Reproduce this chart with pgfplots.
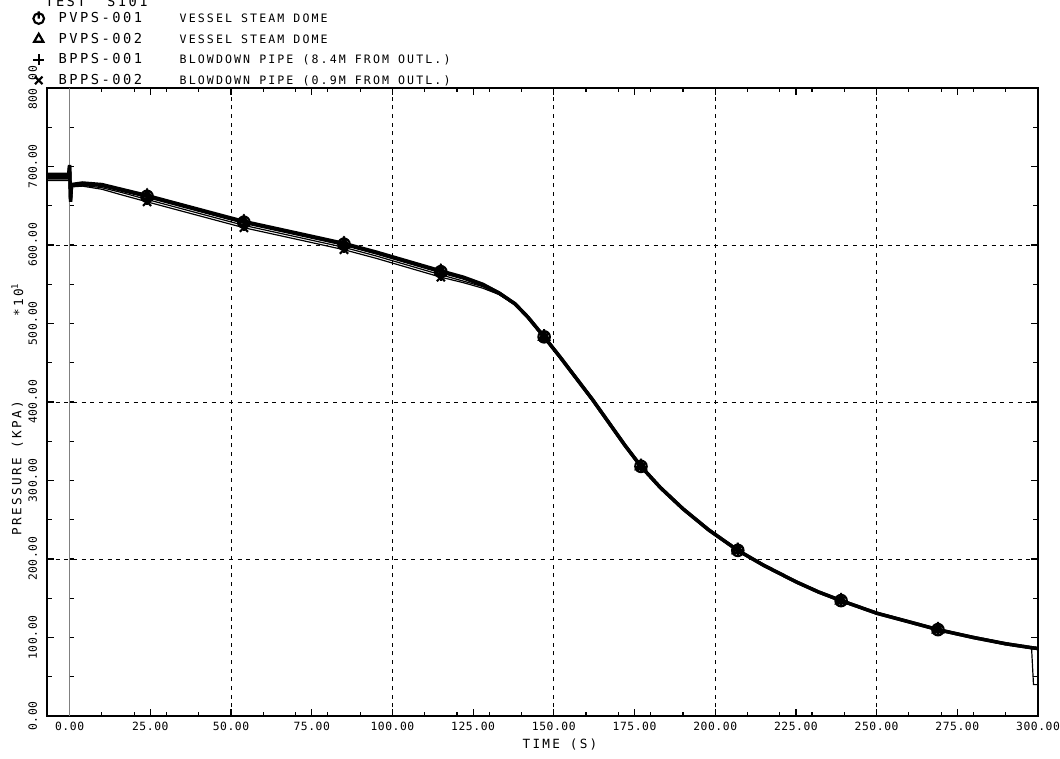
\documentclass[border=0pt]{standalone}
\usepackage{fontspec}
\usepackage{pgfplots}
\usepackage{pgfplotstable}
\pgfplotsset{compat=1.18}

\newfontfamily\plotfont[LetterSpace=18]{DejaVu Sans Mono}
\newfontfamily\plotnumfont[LetterSpace=5]{DejaVu Sans Mono}
\newcommand\idfont{\plotfont\fontsize{10.3}{12}\selectfont}
\newcommand\descfont{\plotfont\fontsize{8.7}{10}\selectfont}
\newcommand\tickfont{\plotnumfont\fontsize{8.5}{10}\selectfont}
\newcommand\labfont{\plotfont\fontsize{9.5}{11}\selectfont}

% circle with a short vertical stroke, as drawn by the plotter
\pgfdeclareplotmark{phi}{%
  \pgfpathcircle{\pgfpointorigin}{\pgfplotmarksize}%
  \pgfpathmoveto{\pgfqpoint{0pt}{0pt}}%
  \pgfpathlineto{\pgfqpoint{0pt}{1.35\pgfplotmarksize}}%
  \pgfusepathqstroke}

% pressure histories, time (s) and pressure (kPa x 10)
\pgfplotstableread{
t p
-7 686
-0.3 686
0 700
0.3 657
0.6 676
4 678
10 676
16 670
24 662
34 651
44 640
54 629
64 620
74 611
85 601
95 590
105 578
115 566
122 558
128 549
133 539
138 525
142 508
147 483
152 457
157 430
162 403
167 374
172 345
177 318
183 291
190 264
198 237
207 211
215 192
225 171
232 158
239 147
250 131
260 120
269 110
280 100
290 92
298 87
300 86
}\pvpsa

\pgfplotstableread{
t p
-7 690
-0.3 690
0 702
0.3 655
0.6 677
4 679
10 677
16 671
24 663
34 652
44 641
54 630
64 621
74 612
85 602
95 591
105 579
115 567
122 559
128 550
133 539
138 525
142 508
147 483
152 457
157 430
162 403
167 374
172 345
177 318
183 291
190 264
198 237
207 211
215 192
225 171
232 158
239 147
250 131
260 120
269 110
280 100
290 92
298 87
300 86
}\pvpsb

\pgfplotstableread{
t p
-7 684
-0.3 684
0 698
0.3 660
0.6 675
4 676
10 673
16 667
24 658
34 647
44 636
54 625
64 616
74 607
85 597
95 586
105 574
115 562
122 554
128 547
133 537
138 524
142 507
147 482
152 456
157 430
162 402
167 374
172 345
177 317
183 291
190 264
198 237
207 211
215 192
225 171
232 158
239 147
250 131
260 120
269 110
280 100
290 92
298 87
300 86
}\bppsa

\pgfplotstableread{
t p
-7 682
-0.3 682
0 696
0.3 662
0.6 674
4 675
10 671
16 664
24 655
34 644
44 633
54 622
64 613
74 604
85 594
95 583
105 571
115 559
122 552
128 545
133 537
138 524
142 507
147 482
152 456
157 430
162 402
167 374
172 345
177 317
183 291
190 264
198 237
207 211
215 192
225 171
232 158
239 147
250 131
260 120
269 110
280 100
290 92
298 87
298.6 40
300 40
}\bppsb

\begin{document}
\begin{tikzpicture}
\useasboundingbox (0pt,0pt) rectangle (795pt,568.5pt);
\begin{axis}[
  at={(35.25pt,31.5pt)}, anchor=south west,
  scale only axis, width=743.25pt, height=471pt,
  xmin=-7, xmax=300, ymin=0, ymax=800,
  axis line style={line width=1.3pt},
  xtick={0,25,...,300},
  xticklabels={0.00,25.00,50.00,75.00,100.00,125.00,150.00,175.00,200.00,225.00,250.00,275.00,300.00},
  ytick={0,100,...,800},
  yticklabels={0.00,100.00,200.00,300.00,400.00,500.00,600.00,700.00,800.00},
  minor y tick num=1,
  tick align=inside,
  major tick length=5pt, minor tick length=3.5pt,
  tick style={black, line width=0.9pt},
  xticklabel style={font=\tickfont, yshift=-1pt},
  yticklabel style={font=\tickfont, rotate=90, anchor=south, yshift=4pt},
  extra x ticks={10,20,30,40,60,70,80,90,110,120,130,140,160,170,180,190,210,220,230,240,260,270,280,290},
  extra x tick labels={},
  extra x tick style={major tick length=3pt},
  legend style={at={(axis description cs:-0.014,1.125)}, anchor=north west,
    draw=none, fill=none, inner sep=0pt, row sep=2.3pt, font=\idfont,
    cells={anchor=west},
    /tikz/every odd column/.append style={column sep=9pt}},
  legend image code/.code={\draw[#1, mark indices={1}, only marks, mark size=4pt, line width=0.9pt] plot coordinates {(0pt,0pt)};},
]
% dashed grid
\pgfplotsinvokeforeach{50,100,150,200,250}{
  \draw[black, line width=0.6pt, dash pattern=on 3pt off 3.5pt] (axis cs:#1,0) -- (axis cs:#1,800);}
\pgfplotsinvokeforeach{200,400,600}{
  \draw[black, line width=0.6pt, dash pattern=on 3pt off 3.5pt] (axis cs:-7,#1) -- (axis cs:300,#1);}
% time-zero line with its own ticks
\draw[black!50, line width=1.2pt] (axis cs:0,0) -- (axis cs:0,800);
\pgfplotsinvokeforeach{50,100,...,750}{
  \draw[black, line width=0.8pt] (axis cs:0,#1) -- ++(3.5pt,0pt);}

\addplot[black, line width=2.6pt, mark=phi, mark size=4.3pt,
  mark indices={9,12,15,18,24,30,34,38,41}, mark options={solid, line width=1.6pt}]
  table[x=t, y=p] {\pvpsa};
\addlegendentry{\makebox[90.75pt][l]{PVPS-001}{\descfont VESSEL STEAM DOME}}
\addplot[black, line width=2.6pt, mark=triangle, mark size=4.3pt,
  mark indices={9,12,15,18,24,30,34,38,41}, mark options={solid, line width=1.6pt}]
  table[x=t, y=p] {\pvpsb};
\addlegendentry{\makebox[90.75pt][l]{PVPS-002}{\descfont VESSEL STEAM DOME}}
\addplot[black, line width=0.9pt, mark=+, mark size=4.3pt,
  mark indices={9,12,15,18,24,30,34,38,41}, mark options={solid, line width=1.6pt}]
  table[x=t, y=p] {\bppsa};
\addlegendentry{\makebox[90.75pt][l]{BPPS-001}{\descfont BLOWDOWN PIPE (8.4M FROM OUTL.)}}
\addplot[black, line width=0.9pt, mark=x, mark size=4.3pt,
  mark indices={9,12,15,18,24,30,34,38,41}, mark options={solid, line width=1.6pt}]
  table[x=t, y=p] {\bppsb};
\addlegendentry{\makebox[90.75pt][l]{BPPS-002}{\descfont BLOWDOWN PIPE (0.9M FROM OUTL.)}}
\end{axis}
\node[font=\labfont] at (420pt,9.75pt) {TIME (S)};
\node[font=\labfont, rotate=90] at (13pt,217.5pt) {PRESSURE (KPA)};
\node[font=\labfont, rotate=90] at (13pt,343.5pt) {*10\textsuperscript{1}};
\node[font=\idfont, anchor=base west, inner sep=0pt] at (33.75pt,563.25pt) {TEST\ \ S101};
\end{tikzpicture}
\end{document}
